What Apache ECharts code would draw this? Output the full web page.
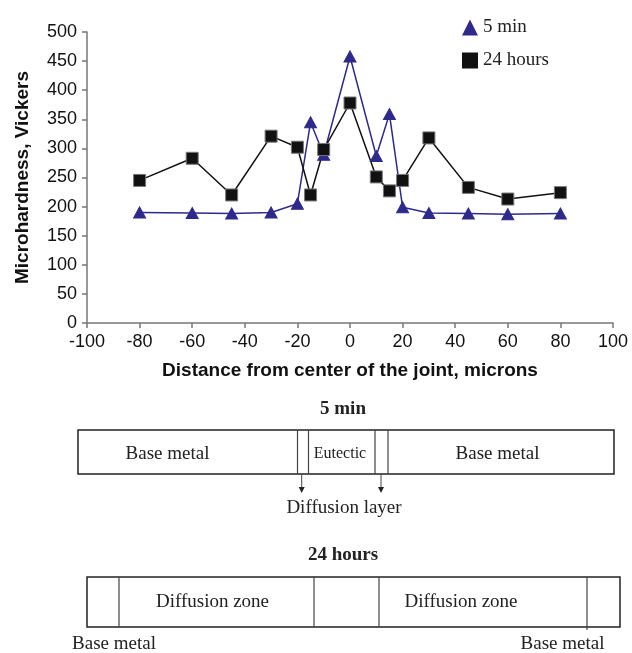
<!DOCTYPE html>
<html>
<head>
<meta charset="utf-8">
<script src="https://cdn.jsdelivr.net/npm/echarts@6/dist/echarts.min.js"></script>
<style>html,body{margin:0;padding:0;background:#fff}#c{width:632px;height:653px}</style>
</head>
<body>
<div id="c"></div>
<script>
// Data
var distance5 = [-80, -60, -45, -30, -20, -15, -10, 0, 10, 15, 20, 30, 45, 60, 80];
var hardness5min = [190, 189, 188, 190, 205, 345, 289, 458, 287, 359, 199, 189, 188, 187, 188];
var distance24 = [-80, -60, -45, -30, -20, -15, -10, 0, 10, 15, 20, 30, 45, 60, 80];
var hardness24h = [245, 283, 220, 321, 302, 220, 298, 378, 251, 227, 245, 318, 233, 213, 224];
var seriesNames = ['5 min', '24 hours'];
var xTitle = 'Distance from center of the joint, microns';
var yTitle = 'Microhardness, Vickers';
var diagram1Title = '5 min';
var diagram2Title = '24 hours';

var serif = '"Liberation Serif","Times New Roman",serif';
var sans = '"Liberation Sans",Arial,sans-serif';
var txtColor = '#222';

function pairs(xs, ys) { return xs.map(function (x, i) { return [x, ys[i]]; }); }
function text(x, y, s, size, bold) {
  return { type: 'text', x: x, y: y, style: { text: s, font: (bold ? 'bold ' : '') + size + 'px ' + serif, fill: txtColor, textAlign: 'center', textVerticalAlign: 'middle' } };
}
function vline(x, y1, y2, c, w) {
  return { type: 'line', shape: { x1: x, y1: y1, x2: x, y2: y2 }, style: { stroke: c || '#444', lineWidth: w || 1.2 } };
}
function rect(x, y, w, h) {
  return { type: 'rect', shape: { x: x, y: y, width: w, height: h }, style: { fill: 'none', stroke: '#222', lineWidth: 1.5 } };
}
function arrow(x, y1, y2) {
  return [
    vline(x, y1, y2 - 4, '#444', 1),
    { type: 'polygon', shape: { points: [[x - 3, y2 - 6], [x + 3, y2 - 6], [x, y2]] }, style: { fill: '#222' } }
  ];
}

var graphics = [].concat(
  [text(343, 409, diagram1Title, 19, true),
   rect(78, 430, 536, 44),
   vline(297.5, 430, 474), vline(308.5, 430, 474), vline(375, 430, 474), vline(388, 430, 474),
   text(167.5, 454, 'Base metal', 19), text(340, 454, 'Eutectic', 16), text(497.5, 454, 'Base metal', 19)],
  arrow(301.7, 474, 493), arrow(381, 474, 493),
  [text(344, 508, 'Diffusion layer', 19),
   text(343, 555, diagram2Title, 19, true),
   rect(87, 577, 533, 50),
   vline(119, 577, 627), vline(314, 577, 627), vline(379, 577, 627), vline(587, 577, 630),
   text(212.5, 602, 'Diffusion zone', 19), text(461, 602, 'Diffusion zone', 19),
   text(114, 644, 'Base metal', 19), text(562.5, 644, 'Base metal', 19)]
);

var chart = echarts.init(document.getElementById('c'), null, { renderer: 'canvas' });
chart.setOption({
  animation: false,
  backgroundColor: '#fff',
  grid: { left: 87, right: 19, top: 32, bottom: 330, containLabel: false },
  legend: {
    orient: 'vertical', left: 457, top: 13, itemWidth: 16, itemHeight: 16, itemGap: 14,
    textStyle: { fontFamily: serif, fontSize: 19, color: txtColor },
    data: [{ name: seriesNames[0], icon: 'triangle', itemStyle: { color: '#2E2A8C', borderWidth: 0 } },
           { name: seriesNames[1], icon: 'rect', itemStyle: { color: '#111', borderWidth: 0 } }]
  },
  xAxis: {
    type: 'value', min: -100, max: 100, interval: 20,
    axisLine: { show: true, onZero: false, lineStyle: { color: '#777', width: 1.5 } },
    axisTick: { show: true, length: 5, lineStyle: { color: '#777', width: 1.5 } },
    splitLine: { show: false },
    axisLabel: { fontFamily: sans, fontSize: 18, color: '#111', margin: 10 },
    name: xTitle, nameLocation: 'middle', nameGap: 38,
    nameTextStyle: { fontFamily: sans, fontSize: 19, fontWeight: 'bold', color: '#111' }
  },
  yAxis: {
    type: 'value', min: 0, max: 500, interval: 50,
    axisLine: { show: true, onZero: false, lineStyle: { color: '#777', width: 1.5 } },
    axisTick: { show: true, length: 5, lineStyle: { color: '#777', width: 1.5 } },
    splitLine: { show: false },
    axisLabel: { fontFamily: sans, fontSize: 18, color: '#111', margin: 10 },
    name: yTitle, nameLocation: 'middle', nameGap: 55, nameRotate: 90,
    nameTextStyle: { fontFamily: sans, fontSize: 19, fontWeight: 'bold', color: '#111' }
  },
  series: [
    { name: seriesNames[0], type: 'line', data: pairs(distance5, hardness5min),
      symbol: 'triangle', symbolSize: [12, 11],
      lineStyle: { color: '#2E2A8C', width: 1.5 },
      itemStyle: { color: '#2E2A8C', borderColor: '#2E2A8C' } },
    { name: seriesNames[1], type: 'line', data: pairs(distance24, hardness24h),
      symbol: 'rect', symbolSize: 12,
      lineStyle: { color: '#111', width: 1.5 },
      itemStyle: { color: '#111', borderColor: '#777', borderWidth: 1 } }
  ],
  graphic: graphics
});
</script>
</body>
</html>
